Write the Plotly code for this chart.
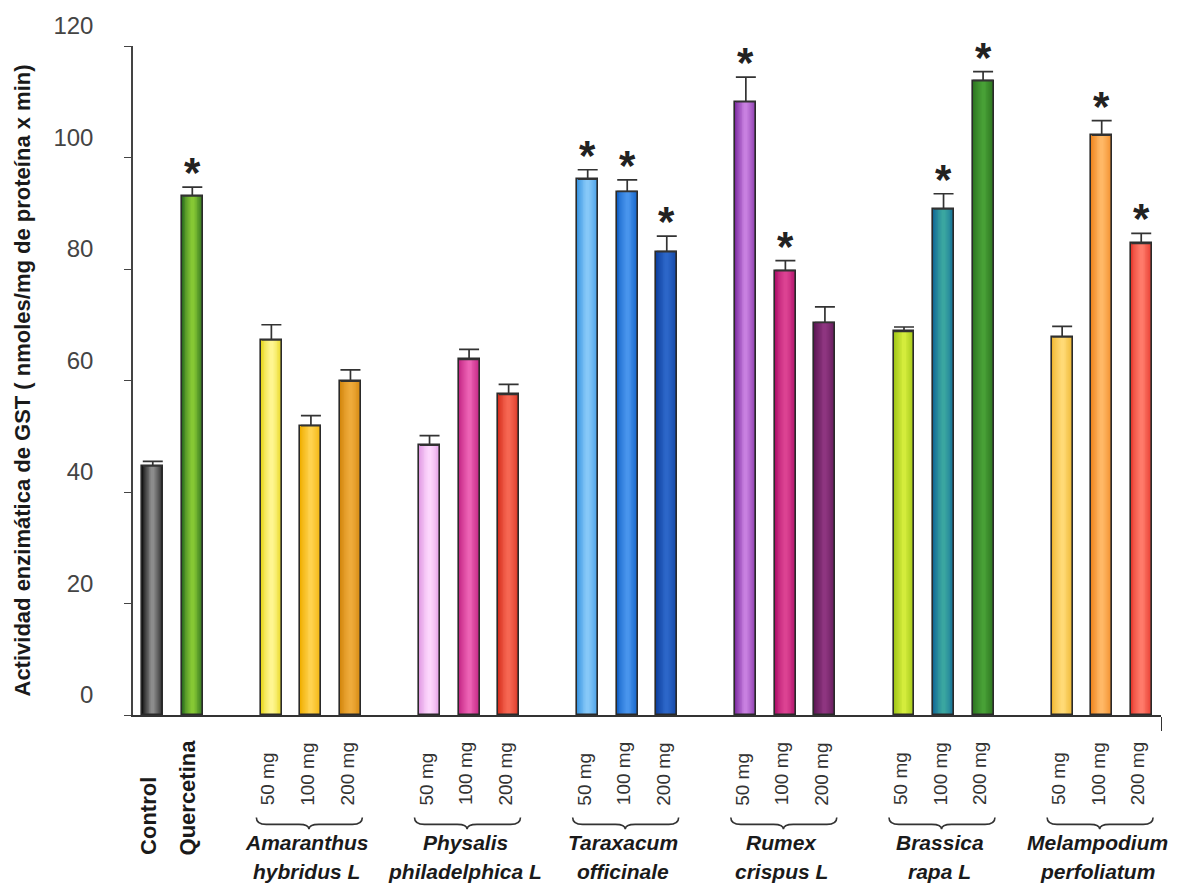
import plotly.graph_objects as go

# ---- data -------------------------------------------------------------
treatments = ["Control", "Quercetina"]
treatment_values = [44.7, 93.1]
treatment_errors = [0.8, 1.6]

doses = ["50 mg", "100 mg", "200 mg"]
species_line1 = ["Amaranthus", "Physalis", "Taraxacum", "Rumex", "Brassica", "Melampodium"]
species_line2 = ["hybridus L", "philadelphica L", "officinale", "crispus L", "rapa L", "perfoliatum"]

amaranthus = [67.3, 51.9, 59.9]
physalis = [48.4, 63.8, 57.5]
taraxacum = [96.1, 93.9, 83.1]
rumex = [110.0, 79.7, 70.4]
brassica = [68.8, 90.8, 113.8]
melampodium = [67.8, 104.0, 84.6]

amaranthus_err = [2.7, 1.8, 2.0]
physalis_err = [1.7, 1.8, 1.8]
taraxacum_err = [1.7, 2.1, 2.8]
rumex_err = [4.4, 1.8, 2.8]
brassica_err = [0.8, 2.7, 1.6]
melampodium_err = [1.9, 2.6, 1.8]

# significance flags (p < 0.05 vs control)
quercetina_sig = [False, True]
amaranthus_sig = [False, False, False]
physalis_sig = [False, False, False]
taraxacum_sig = [True, True, True]
rumex_sig = [True, True, False]
brassica_sig = [False, True, True]
melampodium_sig = [False, True, True]

# ---- colours: edge shade and highlight shade of each cylinder-like bar ----
edge_colors = [
    "#141414", "#2d6f1f",
    "#e8d820", "#f0ae00", "#d4870e",
    "#e29ce4", "#bf1f7f", "#d8301f",
    "#3a96e2", "#1060c6", "#0d409e",
    "#7e2ea2", "#ae106a", "#5c1754",
    "#98c012", "#126a96", "#296f1d",
    "#eeb630", "#ef8620", "#e63a2e",
]
center_colors = [
    "#8c8c8c", "#86c834",
    "#fff690", "#ffd24e", "#eeaa3a",
    "#fcd6fc", "#ec62b4", "#f66652",
    "#86c8f8", "#4894ec", "#2c66c8",
    "#c880e0", "#dc4292", "#8e3580",
    "#d4ec3c", "#3aa6a0", "#48a036",
    "#ffda76", "#ffb866", "#ff7a6a",
]

# ---- assemble bars ----------------------------------------------------
group_vals = [amaranthus, physalis, taraxacum, rumex, brassica, melampodium]
group_errs = [amaranthus_err, physalis_err, taraxacum_err, rumex_err, brassica_err, melampodium_err]
group_sig = [amaranthus_sig, physalis_sig, taraxacum_sig, rumex_sig, brassica_sig, melampodium_sig]

x_pos, values, errors, sig = [], [], [], []
for i, (v, e) in enumerate(zip(treatment_values, treatment_errors)):
    x_pos.append(i)
    values.append(v)
    errors.append(e)
    sig.append(quercetina_sig[i])
group_centers = []
for g, (vals, errs, sg) in enumerate(zip(group_vals, group_errs, group_sig)):
    start = 3 + 4 * g
    group_centers.append(start + 1)
    for j in range(3):
        x_pos.append(start + j)
        values.append(vals[j])
        errors.append(errs[j])
        sig.append(sg[j])


def hex_to_rgb(h):
    h = h.lstrip("#")
    return tuple(int(h[k:k + 2], 16) for k in (0, 2, 4))


def mix(c1, c2, t):
    a, b = hex_to_rgb(c1), hex_to_rgb(c2)
    return "rgb(%d,%d,%d)" % tuple(round(a[k] + (b[k] - a[k]) * t) for k in range(3))


BAR_W = 0.53
LAYERS = 11

fig = go.Figure()

# shaded fill: concentric narrower bars, lighter towards the middle
for k in range(LAYERS):
    t = k / (LAYERS - 1)
    fig.add_trace(go.Bar(
        x=x_pos, y=values,
        width=BAR_W * (1 - 0.85 * t),
        marker=dict(color=[mix(e, c, t ** 0.8) for e, c in zip(edge_colors, center_colors)],
                    line=dict(width=0)),
        hoverinfo="skip", showlegend=False,
    ))

# outline and upper error bars
fig.add_trace(go.Bar(
    x=x_pos, y=values, width=BAR_W,
    marker=dict(color="rgba(0,0,0,0)", line=dict(color="#2a2a2a", width=1.6)),
    error_y=dict(type="data", array=errors, arrayminus=[0] * len(errors), symmetric=False,
                 color="#333333", thickness=1.7, width=10),
    showlegend=False,
))

FONT = "Liberation Sans, Arial, sans-serif"
annotations = []

# significance asterisks
for xp, v, e, s in zip(x_pos, values, errors, sig):
    if s:
        annotations.append(dict(x=xp, y=v + e, xref="x", yref="y", text="<b>*</b>", showarrow=False,
                                yanchor="bottom", yshift=-11,
                                font=dict(family=FONT, size=42, color="#222222")))

PLOT_BOTTOM_PX, PLOT_H = 715, 673


def ypaper(px):
    return (PLOT_BOTTOM_PX - px) / PLOT_H


# Control / Quercetina labels
for xp, name in zip(x_pos[:2], treatments):
    annotations.append(dict(x=xp, y=ypaper(858), xref="x", yref="paper", text="<b>%s</b>" % name,
                            textangle=-90, showarrow=False, yanchor="bottom", xanchor="center",
                            xshift=-5,
                            font=dict(family=FONT, size=22, color="#1a1a1a")))

# dose labels
for xp in x_pos[2:]:
    d = doses[(xp - 3) % 4]
    annotations.append(dict(x=xp, y=ypaper(808), xref="x", yref="paper", text=d,
                            textangle=-90, showarrow=False, yanchor="bottom", xanchor="center",
                            xshift=-3,
                            font=dict(family=FONT, size=19, color="#333333")))

# species names
for c, l1, l2 in zip(group_centers, species_line1, species_line2):
    annotations.append(dict(x=c, y=ypaper(843), xref="x", yref="paper", text="<b><i>%s</i></b>" % l1,
                            showarrow=False, yanchor="middle", xanchor="center", xshift=-4,
                            font=dict(family=FONT, size=21, color="#1a1a1a")))
    annotations.append(dict(x=c, y=ypaper(872), xref="x", yref="paper", text="<b><i>%s</i></b>" % l2,
                            showarrow=False, yanchor="middle", xanchor="center", xshift=-4,
                            font=dict(family=FONT, size=21, color="#1a1a1a")))

# y-axis title
annotations.append(dict(x=(22 - 133) / 1028, y=0.5, xref="paper", yref="paper",
                        xanchor="center", yanchor="middle",
                        text="<b>Actividad enzimática de GST ( nmoles/mg de proteína x min)</b>",
                        textangle=-90, showarrow=False,
                        font=dict(family=FONT, size=22, color="#1a1a1a")))

# braces under each group
shapes = []
y_end, y_mid, y_tip = ypaper(818), ypaper(825), ypaper(830)
for c in group_centers:
    x0, x1 = c - 1.38, c + 1.3
    cm = c - 0.05
    d = 0.25
    path = ("M {a},{ye} Q {a},{ym} {ad},{ym} L {cd0},{ym} Q {c},{ym} {c},{yt} "
            "Q {c},{ym} {cd1},{ym} L {bd},{ym} Q {b},{ym} {b},{ye}").format(
        a=x0, b=x1, c=cm, ad=x0 + d, bd=x1 - d, cd0=cm - d, cd1=cm + d, ye=y_end, ym=y_mid, yt=y_tip)
    shapes.append(dict(type="path", path=path, xref="x", yref="paper",
                       line=dict(color="#333333", width=1.6)))

fig.update_layout(
    width=1195, height=885,
    margin=dict(l=133, r=34, t=42, b=170),
    paper_bgcolor="white", plot_bgcolor="white",
    barmode="overlay", bargap=0,
    annotations=annotations, shapes=shapes,
    showlegend=False,
    xaxis=dict(range=[-0.5, 25.5], showgrid=False, zeroline=False,
               showline=True, linecolor="#333333", linewidth=1.5,
               tickvals=[25.5], ticks="outside", ticklen=14, tickcolor="#333333",
               showticklabels=False),
    yaxis=dict(range=[0, 120], tickvals=[0, 20, 40, 60, 80, 100, 120], showgrid=False, zeroline=False,
               showline=True, linecolor="#444444", linewidth=1.5,
               ticks="outside", ticklen=7, tickcolor="#444444",
               ticklabelshift=-20, ticklabelstandoff=26,
               tickfont=dict(family=FONT, size=24, color="#444444")),
)

fig.write_html("out.html")
